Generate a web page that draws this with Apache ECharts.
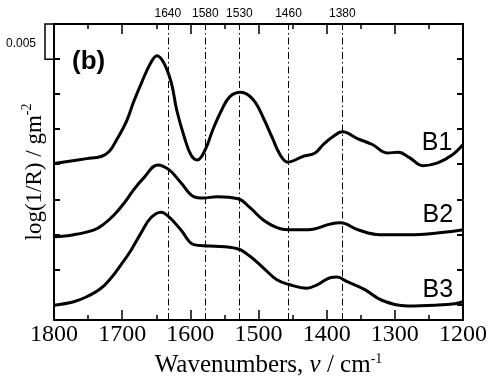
<!DOCTYPE html>
<html><head><meta charset="utf-8">
<script src="https://cdn.jsdelivr.net/npm/echarts@6/dist/echarts.min.js"></script>
<style>html,body{margin:0;padding:0;background:#fff}#c{width:495px;height:385px}</style>
</head><body><div id="c"></div>
<script>
// ---- data ----
const b1Wn  = [1800,1752,1731,1719,1708,1694,1683,1671,1658,1649,1639,1628,1620,1609,1599,1590,1578,1567,1554,1542,1526,1508,1493,1480,1468,1457,1435,1417,1405,1391,1377,1354,1333,1311,1295,1278,1259,1237,1216,1200];
const b1Val = [0.0222,0.0229,0.0232,0.0239,0.0256,0.0281,0.0310,0.0338,0.0365,0.0375,0.0365,0.0337,0.0298,0.0260,0.0234,0.0227,0.0242,0.0270,0.0298,0.0317,0.0323,0.0313,0.0287,0.0259,0.0234,0.0224,0.0232,0.0237,0.0249,0.0260,0.0267,0.0257,0.0249,0.0237,0.0238,0.0230,0.0219,0.0223,0.0234,0.0249];
const b2Wn  = [1800,1771,1741,1727,1712,1697,1683,1668,1648,1631,1614,1595,1581,1561,1530,1512,1493,1473,1457,1427,1395,1380,1354,1322,1281,1231,1200];
const b2Val = [0.0118,0.0121,0.0128,0.0136,0.0149,0.0166,0.0185,0.0202,0.0220,0.0213,0.0195,0.0175,0.0173,0.0175,0.0172,0.0159,0.0142,0.0131,0.0128,0.0128,0.0136,0.0138,0.0128,0.0121,0.0121,0.0124,0.0128];
const b3Wn  = [1800,1771,1752,1731,1716,1702,1687,1672,1658,1643,1631,1614,1595,1571,1531,1512,1493,1473,1454,1429,1414,1395,1385,1369,1344,1319,1281,1241,1212,1200];
const b3Val = [0.0021,0.0026,0.0033,0.0045,0.0060,0.0078,0.0099,0.0124,0.0145,0.0153,0.0146,0.0128,0.0107,0.0105,0.0101,0.0090,0.0074,0.0057,0.0050,0.0045,0.0050,0.0060,0.0061,0.0054,0.0043,0.0028,0.0020,0.0021,0.0023,0.0026];
const seriesNames = ['B1','B2','B3'];
const seriesLabelAt = [[1238,0.0251],[1237,0.0149],[1237,0.0043]];
const bandPos    = [1633,1578,1528,1456,1377];
const bandLabels = ['1640','1580','1530','1460','1380'];
const yTickValues = [0.0021,0.0071,0.0121,0.0171,0.0221,0.0271,0.0321,0.0371];
const xMin = 1200, xMax = 1800, xStep = 100;
const yMin = 0, yMax = 0.042;
const scaleBarSize = 0.005;
const scaleBarLabel = '0.005';
const panelLabel = '(b)';

// ---- chart ----
const chart = echarts.init(document.getElementById('c'), null, {renderer:'canvas'});
const zip = (a,b)=>a.map((v,i)=>[v,b[i]]);
const allData = [zip(b1Wn,b1Val), zip(b2Wn,b2Val), zip(b3Wn,b3Val)];
const serif = 'Liberation Serif';
const sans = 'Liberation Sans';

const xAxisBase = {
  type:'value', min:xMin, max:xMax, interval:xStep, inverse:true,
  axisLine:{show:true, onZero:false, lineStyle:{color:'#000', width:2}},
  axisTick:{show:true, inside:true, length:10, lineStyle:{color:'#000', width:1.5}},
  minorTick:{show:true, splitNumber:2, length:5, lineStyle:{color:'#000', width:1.5}},
  splitLine:{show:false}, minorSplitLine:{show:false}
};
const yAxisBase = {
  type:'value', min:yMin, max:yMax,
  axisLine:{show:true, onZero:false, lineStyle:{color:'#000', width:2}},
  axisTick:{show:true, inside:true, length:6, customValues:yTickValues, lineStyle:{color:'#000', width:2}},
  axisLabel:{show:false, customValues:yTickValues},
  splitLine:{show:false}
};

const series = allData.map((d,i)=>({
  type:'line', name:seriesNames[i], data:d, showSymbol:false, smooth:0.4,
  lineStyle:{color:'#000', width:3}, z:3,
  markPoint:{
    silent:true, symbol:'circle', symbolSize:0,
    label:{show:true, position:'inside', formatter:seriesNames[i], fontFamily:sans, fontSize:25, color:'#000'},
    data:[{coord:seriesLabelAt[i]}]
  }
}));
series[0].markLine = {
  silent:true, symbol:['none','none'], animation:false,
  lineStyle:{color:'#000', width:1, type:[7,3,1.5,3]},
  label:{show:true, position:'end', distance:4, fontFamily:sans, fontSize:12, color:'#000'},
  data: bandPos.map((p,i)=>({xAxis:p, label:{formatter:bandLabels[i]}}))
};

chart.setOption({
  animation:false,
  backgroundColor:'#fff',
  textStyle:{fontFamily:serif},
  title:{text:panelLabel, left:72, top:49, padding:0, textStyle:{fontFamily:sans, fontWeight:'bold', fontSize:26, color:'#000'}},
  grid:{left:54, right:32, top:24, bottom:65},
  xAxis:[
    Object.assign({}, xAxisBase, {
      position:'bottom',
      axisLabel:{show:true, showMinLabel:true, showMaxLabel:true, margin:3, fontFamily:serif, fontSize:24, color:'#000',
        formatter:(v)=>String(Math.round(v))},
      name:'{a|Wavenumbers, }{i|ν}{a| / cm}{s|-1}', nameLocation:'middle', nameGap:30,
      nameTextStyle:{color:'#000', fontFamily:serif, fontSize:25, padding:[0,0,0,20], rich:{
        a:{fontFamily:serif, fontSize:25, color:'#000', lineHeight:26, verticalAlign:'bottom'},
        i:{fontFamily:serif, fontSize:25, fontStyle:'italic', color:'#000', lineHeight:26, verticalAlign:'bottom'},
        s:{fontFamily:serif, fontSize:14, color:'#000', lineHeight:26, verticalAlign:'top'}
      }}
    }),
    Object.assign({}, xAxisBase, {position:'top', axisLabel:{show:false}})
  ],
  yAxis:[
    Object.assign({}, yAxisBase, {
      position:'left',
      name:'{a|log(1/R) / gm}{s|-2}', nameLocation:'middle', nameGap:8,
      nameTextStyle:{color:'#000', fontFamily:serif, fontSize:23, rich:{
        a:{fontFamily:serif, fontSize:23, color:'#000', lineHeight:26, verticalAlign:'bottom'},
        s:{fontFamily:serif, fontSize:14, color:'#000', lineHeight:26, verticalAlign:'top'}
      }}
    }),
    Object.assign({}, yAxisBase, {position:'right'})
  ],
  series: series
});

// scale bar (positions derived from the axes)
const xLeft = chart.convertToPixel({xAxisIndex:0}, xMax);
const yTop = chart.convertToPixel({yAxisIndex:0}, yMax);
const yBot = chart.convertToPixel({yAxisIndex:0}, yMax - scaleBarSize);
const barX = xLeft - 9;
chart.setOption({
  graphic:[
    {type:'polyline', silent:true, shape:{points:[[xLeft,yTop],[barX,yTop],[barX,yBot],[xLeft,yBot]]}, style:{stroke:'#000', lineWidth:1.5, fill:null}},
    {type:'text', silent:true, x:barX-9, y:(yTop+yBot)/2+2, style:{text:scaleBarLabel, fontFamily:sans, fontSize:12, fill:'#000', align:'right', verticalAlign:'middle'}}
  ]
});
</script>
</body></html>
